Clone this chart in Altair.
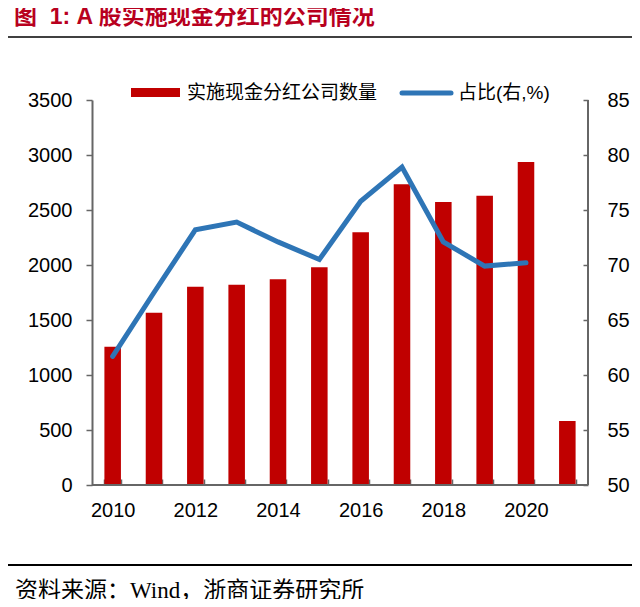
import altair as alt
import pandas as pd

# ---------------- data ----------------
years = [str(y) for y in range(2010, 2022)]
counts = [1257, 1566, 1803, 1821, 1870, 1979, 2297, 2734, 2573, 2630, 2936, 582]
line_years = [str(y) for y in range(2010, 2021)]
pct = [61.7, 67.5, 73.2, 73.9, 72.1, 70.5, 75.8, 78.9, 72.1, 69.9, 70.2]

left_ticks = [0, 500, 1000, 1500, 2000, 2500, 3000, 3500]
right_ticks = [50, 55, 60, 65, 70, 75, 80, 85]

title_text = "图\u00a0\u00a01: A 股实施现金分红的公司情况"
bar_name = "实施现金分红公司数量"
line_name = "占比(右,%)"
source_text = "资料来源：Wind，浙商证券研究所"

# ---------------- styling ----------------
W, H = 496, 385
FONT = "Liberation Sans, Noto Sans CJK SC"
SERIF = "Liberation Serif, Noto Sans CJK SC"
RED = "#C00000"
BLUE = "#2E75B6"
AXIS_GRAY = "#666666"

bars_df = pd.DataFrame({"year": years, "count": counts})
line_df = pd.DataFrame({"year": line_years, "pct": pct})
one = pd.DataFrame({"a": [0]})

x_scale = alt.Scale(domain=years, paddingInner=0.6, paddingOuter=0.3)
x_axis = alt.Axis(
    title=None,
    labelAngle=0,
    labelExpr="parseInt(datum.value) % 2 == 0 ? datum.label : ''",
    domain=False,
    tickBand="extent",
    tickSize=6,
    tickWidth=1.5,
    tickColor=AXIS_GRAY,
    offset=-6,
    labelPadding=15,
    labelFontSize=20,
    labelFont="Liberation Sans",
    labelColor="#000000",
)

bars = alt.Chart(bars_df).mark_bar(color=RED).encode(
    x=alt.X("year:O", scale=x_scale, axis=x_axis),
    y=alt.Y(
        "count:Q",
        scale=alt.Scale(domain=[0, 3500]),
        axis=alt.Axis(
            title=None,
            values=left_ticks,
            format="d",
            grid=False,
            tickSize=6,
            tickWidth=1.5,
            tickColor=AXIS_GRAY,
            domainColor=AXIS_GRAY,
            domainWidth=2,
            labelPadding=14,
            labelFontSize=20,
            labelFont="Liberation Sans",
            labelColor="#000000",
        ),
    ),
)

line = alt.Chart(line_df).mark_line(color=BLUE, strokeWidth=5, strokeCap="round").encode(
    x=alt.X("year:O", scale=x_scale, axis=x_axis),
    y=alt.Y(
        "pct:Q",
        scale=alt.Scale(domain=[50, 85]),
        axis=alt.Axis(
            orient="right",
            title=None,
            values=right_ticks,
            grid=False,
            domain=False,
            offset=-5,
            tickSize=5,
            tickWidth=1.5,
            tickColor=AXIS_GRAY,
            labelPadding=19,
            labelFontSize=20,
            labelFont="Liberation Sans",
            labelColor="#000000",
        ),
    ),
)

# axis domain lines (bottom and right)
bottom_dom = alt.Chart(one).mark_rule(color=AXIS_GRAY, strokeWidth=2).encode(
    x=alt.value(0), x2=alt.value(W), y=alt.value(H)
)
right_dom = alt.Chart(one).mark_rule(color=AXIS_GRAY, strokeWidth=2).encode(
    x=alt.value(W), y=alt.value(0), y2=alt.value(H)
)

# legend
leg_rect = alt.Chart(one).mark_rect(color=RED).encode(
    x=alt.value(39), x2=alt.value(88), y=alt.value(-12), y2=alt.value(-3)
)
leg_text1 = alt.Chart(one).mark_text(
    align="left", baseline="middle", fontSize=19, font=FONT, color="#000000"
).encode(x=alt.value(95), y=alt.value(-7), text=alt.value(bar_name))
leg_line = alt.Chart(one).mark_rule(color=BLUE, strokeWidth=5, strokeCap="round").encode(
    x=alt.value(310), x2=alt.value(359), y=alt.value(-7)
)
leg_text2 = alt.Chart(one).mark_text(
    align="left", baseline="middle", fontSize=19, font=FONT, color="#000000"
).encode(x=alt.value(366), y=alt.value(-7), text=alt.value(line_name))

# title, header/footer lines, source
title = alt.Chart(one).mark_text(
    align="left", baseline="middle", fontSize=23, fontWeight="bold", font=FONT, color="#B8001E"
).encode(x=alt.value(-78), y=alt.value(-83), text=alt.value(title_text))
head_line = alt.Chart(one).mark_rule(color="#404040", strokeWidth=2).encode(
    x=alt.value(-84), x2=alt.value(540), y=alt.value(-63)
)
foot_line = alt.Chart(one).mark_rule(color="#000000", strokeWidth=2).encode(
    x=alt.value(-84), x2=alt.value(540), y=alt.value(465)
)
source = alt.Chart(one).mark_text(
    align="left", baseline="middle", fontSize=23, font=SERIF, color="#000000"
).encode(x=alt.value(-77), y=alt.value(491), text=alt.value(source_text))

chart = (
    alt.layer(
        bars, line, bottom_dom, right_dom,
        leg_rect, leg_text1, leg_line, leg_text2,
        title, head_line, foot_line, source,
    )
    .resolve_scale(y="independent")
    .properties(
        width=W,
        height=H,
        padding={"left": 84, "top": 92, "right": 44, "bottom": 114},
        autosize=alt.AutoSizeParams(type="none"),
        background="white",
    )
    .configure_view(stroke=None)
)

chart.save("out.html", embed_options={"renderer": "svg", "actions": False})
